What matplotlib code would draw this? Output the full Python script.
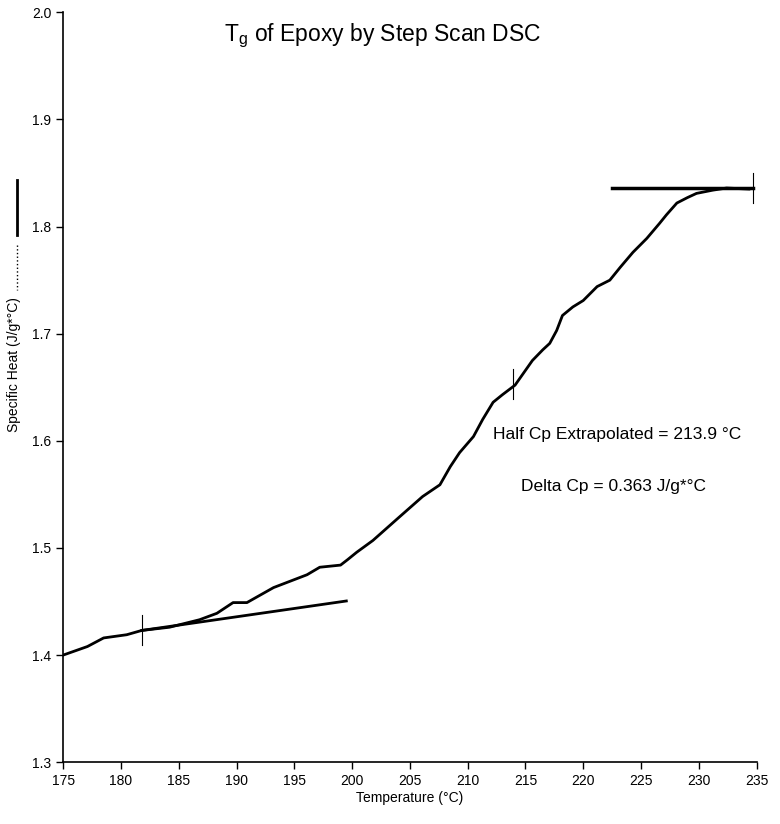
import numpy as np
import matplotlib
matplotlib.use("Agg")
import matplotlib.pyplot as plt
from matplotlib import font_manager
from matplotlib.lines import Line2D

# step scan DSC curve
temp = [175.0, 177.1, 178.5, 180.5, 181.8, 184.2, 186.8, 188.3, 189.7, 190.9,
        193.2, 196.1, 197.2, 199.0, 199.6, 200.4, 201.8, 204.1, 206.1, 207.6,
        208.5, 209.3, 210.5, 211.3, 212.2, 213.0, 214.1, 215.6, 216.5, 217.1,
        217.7, 218.2, 219.1, 220.0, 221.2, 222.3, 223.2, 224.3, 225.5, 226.6,
        227.2, 228.1, 229.0, 229.8, 231.2, 232.4, 234.4]
cp = [1.400, 1.408, 1.416, 1.419, 1.423, 1.426, 1.433, 1.439, 1.449, 1.449,
      1.463, 1.475, 1.482, 1.484, 1.489, 1.496, 1.507, 1.529, 1.548, 1.559,
      1.576, 1.589, 1.604, 1.620, 1.636, 1.643, 1.652, 1.675, 1.685, 1.691,
      1.703, 1.717, 1.725, 1.731, 1.744, 1.750, 1.762, 1.776, 1.789, 1.803,
      1.811, 1.822, 1.827, 1.831, 1.834, 1.836, 1.835]

# extrapolated baselines
low_x = [181.8, 199.5]
low_y = [1.423, 1.4505]
high_x = [222.5, 234.7]
high_y = [1.836, 1.836]

# markers: (x, y)
marks = [(181.8, 1.423), (213.9, 1.653), (234.7, 1.836)]

xticks = list(range(175, 240, 5))
yticks = [1.3, 1.4, 1.5, 1.6, 1.7, 1.8, 1.9, 2.0]

names = {f.name for f in font_manager.fontManager.ttflist}
narrow = "Liberation Sans Narrow" if "Liberation Sans Narrow" in names else "Liberation Sans"
plt.rcParams["font.family"] = [narrow, "DejaVu Sans"]

fig = plt.figure(figsize=(7.8, 8.24), dpi=100)
ax = fig.add_axes([0.081, 0.075, 0.889, 0.910])

ax.plot(temp, cp, color="black", lw=2.0, solid_capstyle="round")
ax.plot(low_x, low_y, color="black", lw=2.0)
ax.plot(high_x, high_y, color="black", lw=2.5)
for mx, my in marks:
    ax.plot([mx, mx], [my - 0.014, my + 0.014], color="black", lw=0.8)

ax.set_xlim(175, 235)
ax.set_ylim(1.3, 2.0)
ax.set_xticks(xticks)
ax.set_yticks(yticks)
ax.set_yticklabels([f"{v:.1f}" for v in yticks])
ax.tick_params(direction="out", length=5, width=1, labelsize=10)
for s in ["top", "right"]:
    ax.spines[s].set_visible(False)
for s in ["left", "bottom"]:
    ax.spines[s].set_linewidth(1.2)

ax.set_xlabel("Temperature (°C)", fontsize=10, labelpad=2)
ax.text(-0.071, 0.53, "Specific Heat (J/g*°C)", transform=ax.transAxes,
        rotation=90, ha="center", va="center", fontsize=10)

ax.text(212.2, 1.606, "Half Cp Extrapolated = 213.9 °C", fontsize=12.5,
        ha="left", va="center")
ax.text(222.6, 1.557, "Delta Cp = 0.363 J/g*°C", fontsize=12.5,
        ha="center", va="center")

fig.text(0.49, 0.957, "T$_\\mathregular{g}$ of Epoxy by Step Scan DSC",
         ha="center", va="center", fontsize=16.5)

# remains of the legend key next to the y label
fig.add_artist(Line2D([17 / 780, 17 / 780], [1 - 180 / 824, 1 - 235 / 824],
                      color="black", lw=2))
fig.add_artist(Line2D([17 / 780, 17 / 780], [1 - 245 / 824, 1 - 290 / 824],
                      color="black", lw=1, ls=":"))

fig.savefig("out.png", dpi=100)
